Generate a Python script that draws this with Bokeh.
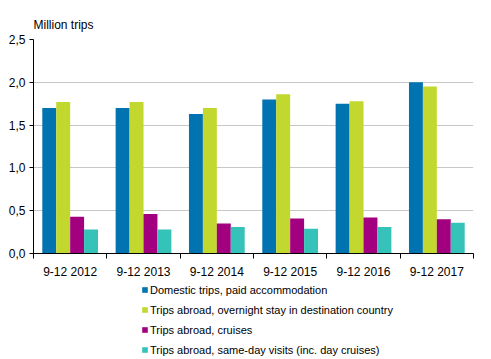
from bokeh.plotting import figure
from bokeh.layouts import column
from bokeh.models import FixedTicker, CustomJSTickFormatter, Legend, LegendItem
from bokeh.embed import file_html
from bokeh.resources import INLINE

categories = ["9-12 2012", "9-12 2013", "9-12 2014", "9-12 2015", "9-12 2016", "9-12 2017"]
domestic = [1.70, 1.70, 1.63, 1.80, 1.75, 2.00]
overnight = [1.77, 1.77, 1.70, 1.86, 1.78, 1.95]
cruises = [0.43, 0.46, 0.35, 0.41, 0.42, 0.40]
sameday = [0.28, 0.28, 0.31, 0.29, 0.31, 0.36]
series_names = ["Domestic trips, paid accommodation",
                "Trips abroad, overnight stay in destination country",
                "Trips abroad, cruises",
                "Trips abroad, same-day visits (inc. day cruises)"]
colors = ["#0073B0", "#C2D82E", "#A3007F", "#35C2B9"]
y_ticks = [0, 0.5, 1.0, 1.5, 2.0, 2.5]

FONT = "Liberation Sans"
series = [domestic, overnight, cruises, sameday]
bw = 0.19

p = figure(width=491, height=283, x_range=(0, len(categories)), y_range=(0, 2.5),
           output_backend="svg", toolbar_location=None,
           min_border_left=33, min_border_right=18, min_border_top=39, min_border_bottom=30)
p.outline_line_color = None
p.xgrid.visible = False
p.ygrid.grid_line_color = "#C8C8C8"
p.ygrid.grid_line_width = 1

p.title.text = "Million trips"
p.title.align = "left"
p.title.offset = 0
p.title.standoff = 16
p.title.text_font = FONT
p.title.text_font_size = "12px"
p.title.text_font_style = "normal"
p.title.text_color = "black"

for k, vals in enumerate(series):
    xs = [i + 0.5 + (k - 1.5) * bw for i in range(len(categories))]
    p.vbar(x=xs, top=vals, width=bw, bottom=0, fill_color=colors[k], line_color=None)

# x axis
p.xaxis.ticker = FixedTicker(ticks=[i + 0.5 for i in range(len(categories))],
                             minor_ticks=list(range(len(categories) + 1)))
p.xaxis.major_label_overrides = {i + 0.5: c for i, c in enumerate(categories)}
p.xaxis.major_tick_out = 0
p.xaxis.major_tick_in = 0
p.xaxis.minor_tick_out = 5
p.xaxis.minor_tick_in = 0
p.xaxis.minor_tick_line_color = "black"
p.xaxis.axis_line_color = "black"
p.xaxis.major_label_standoff = 6
p.xaxis.major_label_text_font = FONT
p.xaxis.major_label_text_font_size = "12px"
p.xaxis.major_label_text_color = "black"

# y axis
p.yaxis.ticker = FixedTicker(ticks=y_ticks)
p.yaxis.formatter = CustomJSTickFormatter(code="return tick.toFixed(1).replace('.', ',');")
p.yaxis.major_tick_out = 4
p.yaxis.major_tick_in = 0
p.yaxis.minor_tick_out = 0
p.yaxis.minor_tick_in = 0
p.yaxis.axis_line_color = "black"
p.yaxis.major_tick_line_color = "black"
p.yaxis.major_label_standoff = 4
p.yaxis.major_label_text_font = FONT
p.yaxis.major_label_text_font_size = "12px"
p.yaxis.major_label_text_color = "black"

# legend panel (its bars lie outside its visible range; only the legend shows)
lg = figure(width=491, height=76, x_range=(0, len(categories)), y_range=(10, 11),
            output_backend="svg", toolbar_location=None,
            x_axis_type=None, y_axis_type=None,
            min_border_left=33, min_border_right=18, min_border_top=0, min_border_bottom=0)
lg.outline_line_color = None
items = []
for k, (name, vals) in enumerate(zip(series_names, series)):
    xs = [i + 0.5 + (k - 1.5) * bw for i in range(len(categories))]
    r = lg.vbar(x=xs, top=vals, width=bw, bottom=0, fill_color=colors[k], line_color=None)
    items.append(LegendItem(label=name, renderers=[r]))

legend = Legend(items=items, location=(108, 3), orientation="vertical",
                label_text_font=FONT, label_text_font_size="11px", label_text_color="black",
                label_height=13, glyph_height=7, glyph_width=7, spacing=7, label_standoff=2,
                padding=0, margin=0, border_line_color=None, background_fill_alpha=0)
lg.add_layout(legend, "center")

layout = column(p, lg, spacing=0)
open("out.html", "w").write(file_html(layout, INLINE))
